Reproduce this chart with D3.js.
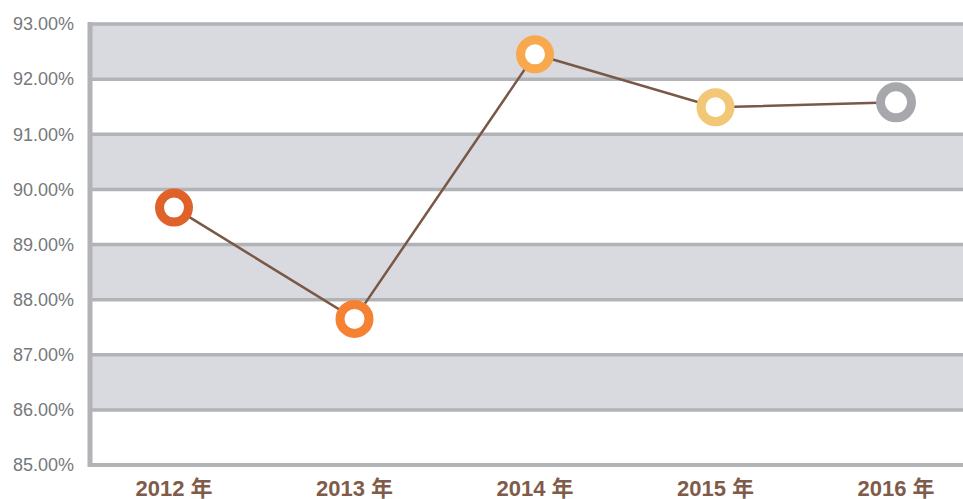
<!DOCTYPE html>
<html>
<head>
<meta charset="utf-8">
<script src="https://cdn.jsdelivr.net/npm/d3@7"></script>
<style>
  body { margin: 0; background: #fff; }
  svg { display: block; font-family: "Liberation Sans", Arial, "Noto Sans CJK SC", sans-serif; }
</style>
</head>
<body>
<div id="chart"></div>
<script>
// data
var years = ["2012 年", "2013 年", "2014 年", "2015 年", "2016 年"];
var rates = [89.67, 87.65, 92.45, 91.49, 91.58];
var dotColors = ["#e0622b", "#f58232", "#f8a94e", "#f2c877", "#a7a8ab"];
var yTicks = [85, 86, 87, 88, 89, 90, 91, 92, 93];

// dimensions
var width = 963;
var height = 499;
var plotLeft = 90, plotTop = 24, plotBottom = 465;

var svg = d3.select('#chart')
  .append('svg')
  .attr('width', width)
  .attr('height', height);

var x = d3.scalePoint()
  .domain(years)
  .range([174, 896]);

var y = d3.scaleLinear()
  .domain([85, 93])
  .range([plotBottom, plotTop]);

// gray bands on every other interval
svg.selectAll('.band')
  .data(yTicks.filter(function(t) { return t < 93 && t % 2 === 0; }))
  .enter()
  .append('rect')
  .attr('x', plotLeft)
  .attr('width', width - plotLeft)
  .attr('y', function(d) { return y(d + 1); })
  .attr('height', function(d) { return y(d) - y(d + 1); })
  .attr('fill', '#d9dadf');

// grid lines
svg.selectAll('.grid')
  .data(yTicks)
  .enter()
  .append('line')
  .attr('x1', plotLeft)
  .attr('x2', width)
  .attr('y1', function(d) { return y(d); })
  .attr('y2', function(d) { return y(d); })
  .attr('stroke', '#b1b3b6')
  .attr('stroke-width', function(d) { return d === 85 ? 4 : 3.5; });

// left axis line
svg.append('line')
  .attr('x1', plotLeft).attr('x2', plotLeft)
  .attr('y1', y(93) - 2).attr('y2', y(85) + 2)
  .attr('stroke', '#b1b3b6')
  .attr('stroke-width', 5);

// y labels
svg.selectAll('.ylab')
  .data(yTicks)
  .enter()
  .append('text')
  .attr('x', 74)
  .attr('y', function(d) { return y(d); })
  .attr('dy', '0.35em')
  .attr('text-anchor', 'end')
  .attr('fill', '#77787b')
  .style('font-size', '18px')
  .text(function(d) { return d.toFixed(2) + '%'; });

// x labels
svg.selectAll('.xlab')
  .data(years)
  .enter()
  .append('text')
  .attr('x', function(d) { return x(d); })
  .attr('y', 488)
  .attr('dy', '0.35em')
  .attr('text-anchor', 'middle')
  .attr('fill', '#7f5b4a')
  .style('font-size', '22px')
  .style('font-weight', 'bold')
  .text(function(d) { return d; });

// line
var line = d3.line()
  .x(function(d, i) { return x(years[i]); })
  .y(function(d) { return y(d); });

svg.append('path')
  .datum(rates)
  .attr('d', line)
  .attr('fill', 'none')
  .attr('stroke', '#7a5846')
  .attr('stroke-width', 2.5);

// ring markers
svg.selectAll('.dot')
  .data(rates)
  .enter()
  .append('circle')
  .attr('cx', function(d, i) { return x(years[i]); })
  .attr('cy', function(d) { return y(d); })
  .attr('r', function(d, i) { return i === 4 ? 15.5 : 14.5; })
  .attr('fill', '#fff')
  .attr('stroke', function(d, i) { return dotColors[i]; })
  .attr('stroke-width', 9);
</script>
</body>
</html>
